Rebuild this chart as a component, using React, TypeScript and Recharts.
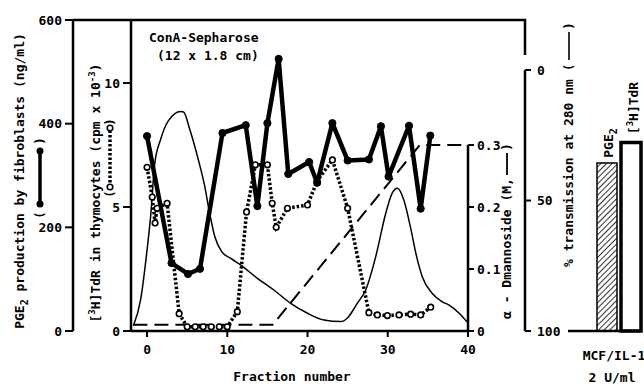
import React from "react";
import { ComposedChart, Line, XAxis, YAxis, BarChart, Bar } from "recharts";

const FONT = '"DejaVu Sans Mono", "Liberation Mono", monospace';

// PGE2 production (ng/ml), thick line with filled dots
const pgeFractions = [0, 3.05, 5.1, 6.6, 9.4, 12.3, 13.75, 15.0, 16.4, 17.6, 20.2, 21.2, 23.1, 25.0, 27.65, 29.15, 30.1, 32.65, 34.1, 35.3];
const pgeValues = [376, 131, 110, 120, 382, 397, 241, 401, 525, 303, 326, 286, 401, 329, 331, 395, 298, 396, 236, 377];

// [3H]TdR in thymocytes (cpm x 10^-3), dotted line with open circles
const tdrFractions = [0, 0.65, 1.0, 1.25, 2.5, 4.0, 5.0, 6.0, 7.0, 8.0, 9.0, 10.0, 11.25, 12.4, 13.5, 15.0, 15.6, 16.1, 17.5, 20.0, 21.2, 23.1, 25.0, 27.65, 28.7, 29.95, 31.4, 32.85, 34.1, 35.35];
const tdrValues = [6.6, 5.4, 4.35, 4.95, 5.15, 0.7, 0.17, 0.17, 0.17, 0.17, 0.17, 0.17, 0.78, 4.8, 6.7, 6.7, 5.15, 4.18, 4.95, 5.08, 6.05, 6.9, 4.95, 0.74, 0.65, 0.62, 0.65, 0.68, 0.65, 0.96];

// % transmission at 280 nm, thin line
const transFractions = [-1.7, -0.8, 0, 0.45, 0.95, 1.7, 2.65, 4.2, 4.55, 5.35, 6.4, 7.2, 7.65, 8.45, 9.3, 10.4, 11.65, 13.75, 15.8, 17.9, 20.0, 22.05, 24.15, 24.95, 26.2, 27.25, 28.5, 29.75, 30.55, 31.2, 32.0, 32.85, 33.5, 34.3, 35.55, 36.8, 37.6, 38.9, 39.9];
const transValues = [98, 88, 69, 56, 36, 26.5, 19.5, 15.9, 16.1, 23, 34.5, 44.7, 52.4, 63.9, 69.6, 72.1, 74.7, 79.8, 84.3, 89.4, 93.2, 95.8, 96.4, 95.1, 89.4, 84.3, 71.5, 54.9, 47.2, 45.3, 49.8, 60.5, 70.2, 79.2, 85.6, 88.8, 90, 93.2, 96.6];

// alpha-D-mannoside gradient (M), dashed line
const manFractions = [-1.7, 15.65, 34.0, 40];
const manValues = [0.01, 0.01, 0.3, 0.3];

// side panel bars
const barCategories = ["MCF/IL-1"];
const barPge = [324];
const barTdr = [7.6];

const xTicks = [0, 10, 20, 30, 40];
const pgeTicks = [0, 200, 400, 600];
const tdrTicks = [0, 5, 10];
const manTicks = [0, 0.1, 0.2, 0.3];
const transTicks = [0, 50, 100];

const pgeData = pgeFractions.map((f, i) => ({ f, v: pgeValues[i] }));
const tdrData = tdrFractions.map((f, i) => ({ f, v: tdrValues[i] }));
const transData = transFractions.map((f, i) => ({ f, v: transValues[i] }));
const manData = manFractions.map((f, i) => ({ f, v: manValues[i] }));
const barData = barCategories.map((name, i) => ({ name, pge: barPge[i], tdr: barTdr[i] }));

const tickStyle = { fill: "#000", fontSize: 13, fontFamily: FONT, fontWeight: "bold" };
const axisStroke = { stroke: "#000", strokeWidth: 2.5 };
const tickStroke = { stroke: "#000", strokeWidth: 2 };
const txt = { fontFamily: FONT, fontSize: 13, fill: "#000", fontWeight: "bold" as const };

// axes on the same side are stacked by id, so the ids keep the inner one first
const TDR = "a-tdr";
const PGE = "b-pge";
const MAN = "a-man";
const TRANS = "b-trans";

export default function App() {
  return (
    <div
      style={{
        position: "absolute",
        left: 0,
        top: 0,
        width: 644,
        height: 384,
        background: "#fff",
        overflow: "hidden",
      }}
    >
      <div style={{ position: "absolute", left: 0, top: 0 }}>
        <ComposedChart width={560} height={384} margin={{ top: 20, right: 0, bottom: 23, left: 0 }}>
          <XAxis
            type="number"
            dataKey="f"
            domain={[-2, 40]}
            ticks={xTicks}
            allowDataOverflow
            height={30}
            tickSize={6}
            tickMargin={8}
            tick={tickStyle}
            axisLine={axisStroke}
            tickLine={tickStroke}
          />
          <YAxis
            yAxisId={TDR}
            orientation="left"
            width={58}
            domain={[0, 12.54]}
            ticks={tdrTicks}
            allowDataOverflow
            tickSize={8}
            tickMargin={3}
            tick={tickStyle}
            axisLine={axisStroke}
            tickLine={tickStroke}
          />
          <YAxis
            yAxisId={PGE}
            orientation="left"
            width={73}
            domain={[0, 600]}
            ticks={pgeTicks}
            allowDataOverflow
            tickSize={8}
            tickMargin={3}
            tick={tickStyle}
            axisLine={axisStroke}
            tickLine={tickStroke}
          />
          <YAxis
            yAxisId={MAN}
            orientation="right"
            width={57}
            domain={[0, 0.5016]}
            ticks={manTicks}
            allowDataOverflow
            tickSize={6}
            tickMargin={3}
            tick={tickStyle}
            tickFormatter={(v: number) => String(v)}
            axisLine={false}
            tickLine={tickStroke}
          />
          <YAxis
            yAxisId={TRANS}
            orientation="right"
            width={35}
            domain={[-19.16, 100]}
            reversed
            ticks={transTicks}
            allowDataOverflow
            tickSize={6}
            tickMargin={6}
            tick={tickStyle}
            axisLine={false}
            tickLine={tickStroke}
          />
          <Line
            yAxisId={TRANS}
            data={transData}
            dataKey="v"
            type="monotone"
            stroke="#000"
            strokeWidth={1.5}
            dot={false}
            isAnimationActive={false}
          />
          <Line
            yAxisId={MAN}
            data={manData}
            dataKey="v"
            type="linear"
            stroke="#000"
            strokeWidth={2}
            strokeDasharray="14 7"
            dot={false}
            isAnimationActive={false}
          />
          <Line
            yAxisId={TDR}
            data={tdrData}
            dataKey="v"
            type="linear"
            stroke="#000"
            strokeWidth={3.5}
            strokeDasharray="2.5 2"
            dot={{ r: 2.8, fill: "#fff", stroke: "#000", strokeWidth: 1.6, strokeDasharray: "none" }}
            isAnimationActive={false}
          />
          <Line
            yAxisId={PGE}
            data={pgeData}
            dataKey="v"
            type="linear"
            stroke="#000"
            strokeWidth={4.5}
            strokeLinejoin="round"
            dot={{ r: 3.6, fill: "#000", stroke: "#000", strokeWidth: 1 }}
            isAnimationActive={false}
          />
        </ComposedChart>
      </div>

      <div style={{ position: "absolute", left: 594, top: 0 }}>
        <BarChart width={50} height={384} data={barData} margin={{ top: 20, right: 0, bottom: 53, left: 0 }} barGap={4}>
          <XAxis dataKey="name" hide />
          <YAxis yAxisId={PGE} domain={[0, 600]} hide />
          <YAxis yAxisId={TDR} domain={[0, 12.54]} hide />
          <Bar yAxisId={PGE} dataKey="pge" barSize={20} fill="url(#hatch)" stroke="#000" strokeWidth={1.5} isAnimationActive={false} />
          <Bar yAxisId={TDR} dataKey="tdr" barSize={20} fill="#fff" stroke="#000" strokeWidth={3.5} isAnimationActive={false} />
        </BarChart>
      </div>

      <svg width={644} height={384} style={{ position: "absolute", left: 0, top: 0, pointerEvents: "none" }}>
        <defs>
          <pattern id="hatch" width="4" height="4" patternUnits="userSpaceOnUse" patternTransform="rotate(45)">
            <line x1="0" y1="0" x2="0" y2="4" stroke="#000" strokeWidth="1.6" />
          </pattern>
        </defs>

        {/* frame pieces */}
        <g stroke="#000" strokeWidth={2.5} fill="none">
          <path d="M73,20 H525 V55" />
          <path d="M525,70 V331" />
          <path d="M468,145 V331" />
          <path d="M568,331 H641" />
        </g>

        {/* left axis titles */}
        <g transform="translate(24,181) rotate(-90)">
          <text {...txt} textAnchor="middle">
            PGE<tspan dy={4} fontSize={10}>2</tspan>
            <tspan dy={-4}> production by fibroblasts (ng/ml)</tspan>
          </text>
        </g>
        <g transform="translate(40,178) rotate(-90)">
          <text {...txt} x={-37} y={4} textAnchor="middle">(</text>
          <line x1={-26} y1={0} x2={27} y2={0} stroke="#000" strokeWidth={3.5} />
          <circle cx={-26} cy={0} r={3.5} fill="#000" />
          <circle cx={27} cy={0} r={3.5} fill="#000" />
          <text {...txt} x={37} y={4} textAnchor="middle">)</text>
        </g>

        <g transform="translate(100,193) rotate(-90)">
          <text {...txt} textAnchor="middle">
            [<tspan dy={-5} fontSize={9}>3</tspan>
            <tspan dy={5}>H]TdR in thymocytes (cpm x 10</tspan>
            <tspan dy={-5} fontSize={9}>-3</tspan>
            <tspan dy={5}>)</tspan>
          </text>
        </g>
        <g transform="translate(110,158) rotate(-90)">
          <text {...txt} x={-36} y={4} textAnchor="middle">(</text>
          <line x1={-29} y1={0} x2={30} y2={0} stroke="#000" strokeWidth={3.5} strokeDasharray="2.5 2" />
          <circle cx={-29} cy={0} r={2.8} fill="#fff" stroke="#000" strokeWidth={1.6} />
          <circle cx={30} cy={0} r={2.8} fill="#fff" stroke="#000" strokeWidth={1.6} />
          <text {...txt} x={36} y={4} textAnchor="middle">)</text>
        </g>

        {/* right axis titles */}
        <g transform="translate(511,231) rotate(-90)">
          <text {...txt} x={-88} y={0}>α - Dmannoside (M,</text>
          <line x1={56} y1={-4} x2={78} y2={-4} stroke="#000" strokeWidth={1.8} />
          <text {...txt} x={80} y={0}>)</text>
        </g>
        <g transform="translate(573,144) rotate(-90)">
          <text {...txt} x={-123} y={0}>% transmission at 280 nm (</text>
          <line x1={84} y1={-4} x2={112} y2={-4} stroke="#000" strokeWidth={1.6} />
          <text {...txt} x={114} y={0}>)</text>
        </g>

        {/* annotations */}
        <text {...txt} x={149} y={42}>ConA-Sepharose</text>
        <text {...txt} x={157} y={60}>(12 x 1.8 cm)</text>
        <text {...txt} x={292} y={381} textAnchor="middle">Fraction number</text>

        {/* side panel labels */}
        <g transform="translate(613,143) rotate(-90)">
          <text {...txt} textAnchor="middle">
            PGE<tspan dy={4} fontSize={10}>2</tspan>
          </text>
        </g>
        <g transform="translate(638,108) rotate(-90)">
          <text {...txt} textAnchor="middle">
            [<tspan dy={-5} fontSize={9}>3</tspan>
            <tspan dy={5}>H]TdR</tspan>
          </text>
        </g>
        <text {...txt} x={614} y={360} textAnchor="middle">MCF/IL-1</text>
        <text {...txt} x={612} y={382} textAnchor="middle">2 U/ml</text>
      </svg>
    </div>
  );
}
